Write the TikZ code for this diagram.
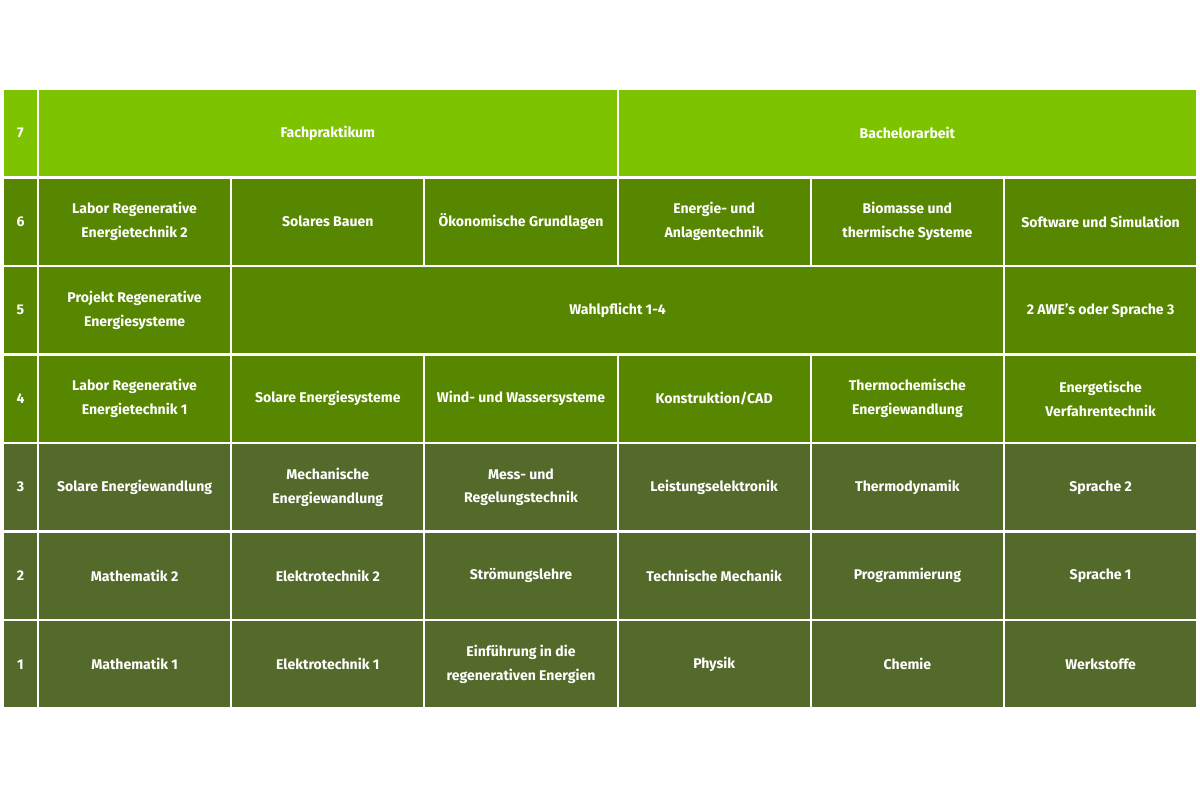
\documentclass[tikz,border=0pt]{standalone}
\usepackage{fontspec}
\setmainfont{Fira Sans}
\usetikzlibrary{positioning}
\definecolor{semtop}{HTML}{7DC300}
\definecolor{semmid}{HTML}{578700}
\definecolor{semlow}{HTML}{546A2A}
\tikzset{
  cell/.style={draw=white,line width=1.5pt,text=white,align=center,inner sep=0pt,
    font=\bfseries\fontsize{10}{17}\selectfont},
  numcell/.style={cell,minimum width=35*0.025cm,minimum height=88.5*0.025cm},
}
% \modul{name}{row}{first column}{columns}{colour}{text}
\newcommand{\modul}[6]{%
  \node[cell,fill=#5,minimum width=#4*193.2*0.025cm,minimum height=88.5*0.025cm]
    (#1) at ({38+193.2*(#3-1)+96.6*#4},{89+88.5*(7-#2)+44.25}) {#6};}
\begin{document}
\begin{tikzpicture}[x=0.025cm,y=-0.025cm]
        \useasboundingbox (0,0) rectangle (1200,800);

        % Semester numbers
        \foreach \r/\c in {7/semtop,6/semmid,5/semmid,4/semmid,3/semlow,2/semlow,1/semlow}
          \node[numcell,fill=\c] (num\r) at (20.5,{89+88.5*(7-\r)+44.25}) {\r};

        % Semester 7
        \modul{fach}{7}{1}{3}{semtop}{Fachpraktikum}
        \modul{bach}{7}{4}{3}{semtop}{Bachelorarbeit}

        % Semester 6
        \modul{labzwei}{6}{1}{1}{semmid}{Labor Regenerative\\Energietechnik 2}
        \modul{solbau}{6}{2}{1}{semmid}{Solares Bauen}
        \modul{oeko}{6}{3}{1}{semmid}{Ökonomische Grundlagen}
        \modul{anlage}{6}{4}{1}{semmid}{Energie- und\\Anlagentechnik}
        \modul{bio}{6}{5}{1}{semmid}{Biomasse und\\thermische Systeme}
        \modul{soft}{6}{6}{1}{semmid}{Software und Simulation}

        % Semester 5
        \modul{projekt}{5}{1}{1}{semmid}{Projekt Regenerative\\Energiesysteme}
        \modul{wahl}{5}{2}{4}{semmid}{Wahlpflicht 1-4}
        \modul{awe}{5}{6}{1}{semmid}{2 AWE's oder Sprache 3}

        % Semester 4
        \modul{labeins}{4}{1}{1}{semmid}{Labor Regenerative\\Energietechnik 1}
        \modul{solsys}{4}{2}{1}{semmid}{Solare Energiesysteme}
        \modul{wind}{4}{3}{1}{semmid}{Wind- und Wassersysteme}
        \modul{cad}{4}{4}{1}{semmid}{Konstruktion/CAD}
        \modul{thchem}{4}{5}{1}{semmid}{Thermochemische\\Energiewandlung}
        \modul{verf}{4}{6}{1}{semmid}{Energetische\\Verfahrentechnik}

        % Semester 3
        \modul{solwand}{3}{1}{1}{semlow}{Solare Energiewandlung}
        \modul{mech}{3}{2}{1}{semlow}{Mechanische\\Energiewandlung}
        \modul{mess}{3}{3}{1}{semlow}{Mess- und\\Regelungstechnik}
        \modul{leist}{3}{4}{1}{semlow}{Leistungselektronik}
        \modul{thdyn}{3}{5}{1}{semlow}{Thermodynamik}
        \modul{sprzwei}{3}{6}{1}{semlow}{Sprache 2}

        % Semester 2
        \modul{matzwei}{2}{1}{1}{semlow}{Mathematik 2}
        \modul{etzwei}{2}{2}{1}{semlow}{Elektrotechnik 2}
        \modul{stroem}{2}{3}{1}{semlow}{Strömungslehre}
        \modul{techmech}{2}{4}{1}{semlow}{Technische Mechanik}
        \modul{prog}{2}{5}{1}{semlow}{Programmierung}
        \modul{spreins}{2}{6}{1}{semlow}{Sprache 1}

        % Semester 1
        \modul{mateins}{1}{1}{1}{semlow}{Mathematik 1}
        \modul{eteins}{1}{2}{1}{semlow}{Elektrotechnik 1}
        \modul{einf}{1}{3}{1}{semlow}{Einführung in die\\regenerativen Energien}
        \modul{phys}{1}{4}{1}{semlow}{Physik}
        \modul{chem}{1}{5}{1}{semlow}{Chemie}
        \modul{werk}{1}{6}{1}{semlow}{Werkstoffe}
\end{tikzpicture}
\end{document}
